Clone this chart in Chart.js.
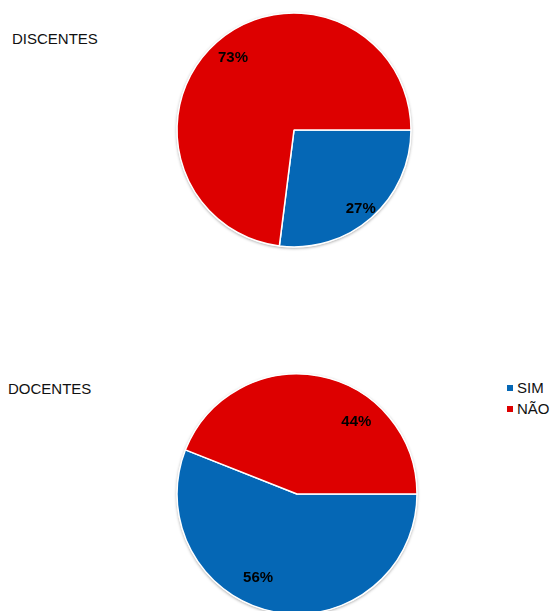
<!DOCTYPE html>
<html>
<head>
<meta charset="utf-8">
<script src="https://cdn.jsdelivr.net/npm/chart.js@4/dist/chart.umd.min.js"></script>
<style>
  html, body { margin: 0; padding: 0; background: #fff; overflow: hidden; }
  body { width: 554px; height: 611px; position: relative; font-family: "Liberation Sans", Arial, sans-serif; color: #111; }
  .titulo { position: absolute; font-size: 15px; line-height: 15px; }
  canvas { position: absolute; }
  #legenda { position: absolute; left: 507px; top: 380px; font-size: 15px; }
  #legenda div { height: 21px; line-height: 16px; white-space: nowrap; }
  #legenda span { display: inline-block; width: 6px; height: 6px; margin-right: 4px; vertical-align: 2px; }
</style>
</head>
<body>
<div class="titulo" style="left:12px; top:31px;">DISCENTES</div>
<div class="titulo" style="left:8px; top:381px;">DOCENTES</div>
<canvas id="grafico-discentes" width="250" height="250" style="left:169px; top:5px;"></canvas>
<canvas id="grafico-docentes" width="250" height="250" style="left:172px; top:369px;"></canvas>
<div id="legenda"></div>

<script>
// Dados
const categorias = ['SIM', 'NÃO'];
const discentes = [27, 73];
const docentes = [56, 44];
const cores = ['#0567B5', '#DD0000'];

// Rótulos de porcentagem desenhados sobre cada fatia
const rotulosPorcentagem = {
  id: 'rotulosPorcentagem',
  afterDatasetsDraw(chart, args, opts) {
    const ctx = chart.ctx;
    const meta = chart.getDatasetMeta(0);
    const valores = chart.data.datasets[0].data;
    const total = valores.reduce((a, b) => a + b, 0);
    ctx.save();
    ctx.font = 'bold 15px "Liberation Sans Narrow", "Liberation Sans", Arial, sans-serif';
    ctx.fillStyle = '#000';
    ctx.textAlign = 'center';
    ctx.textBaseline = 'middle';
    meta.data.forEach((arc, i) => {
      const p = arc.getProps(['x', 'y', 'startAngle', 'endAngle', 'outerRadius'], true);
      const pos = opts.posicoes[i];
      const ang = p.startAngle + pos.t * (p.endAngle - p.startAngle);
      const r = pos.f * p.outerRadius;
      const texto = Math.round(valores[i] / total * 100) + '%';
      ctx.fillText(texto, p.x + Math.cos(ang) * r, p.y + Math.sin(ang) * r);
    });
    ctx.restore();
  }
};

// Sombra leve em volta da pizza
const sombraPizza = {
  id: 'sombraPizza',
  beforeDatasetsDraw(chart) {
    const arc = chart.getDatasetMeta(0).data[0];
    if (!arc) return;
    const p = arc.getProps(['x', 'y', 'outerRadius'], true);
    const ctx = chart.ctx;
    ctx.save();
    ctx.shadowColor = 'rgba(0,0,0,0.35)';
    ctx.shadowBlur = 3;
    ctx.shadowOffsetY = 1;
    ctx.fillStyle = '#fff';
    ctx.beginPath();
    ctx.arc(p.x, p.y, p.outerRadius + 0.5, 0, Math.PI * 2);
    ctx.fill();
    ctx.restore();
  }
};

function criarPizza(id, valores, raio, posicoes) {
  return new Chart(document.getElementById(id).getContext('2d'), {
    type: 'pie',
    data: {
      labels: categorias,
      datasets: [{
        data: valores,
        backgroundColor: cores,
        borderColor: '#fff',
        borderWidth: 1.5,
        hoverOffset: 0,
        clip: false
      }]
    },
    options: {
      responsive: false,
      animation: false,
      rotation: 90,
      radius: raio,
      layout: { padding: 0 },
      events: [],
      plugins: {
        legend: { display: false },
        tooltip: { enabled: false },
        rotulosPorcentagem: { posicoes: posicoes }
      }
    },
    plugins: [sombraPizza, rotulosPorcentagem]
  });
}

criarPizza('grafico-discentes', discentes, 117, [{ t: 0.51, f: 0.88 }, { t: 0.505, f: 0.81 }]);
const graficoDocentes = criarPizza('grafico-docentes', docentes, 120, [{ t: 0.57, f: 0.77 }, { t: 0.68, f: 0.78 }]);

// Legenda
const legenda = document.getElementById('legenda');
graficoDocentes.legend.legendItems.forEach(item => {
  const linha = document.createElement('div');
  const quadrado = document.createElement('span');
  quadrado.style.background = item.fillStyle;
  linha.appendChild(quadrado);
  linha.appendChild(document.createTextNode(item.text));
  legenda.appendChild(linha);
});
</script>
</body>
</html>
